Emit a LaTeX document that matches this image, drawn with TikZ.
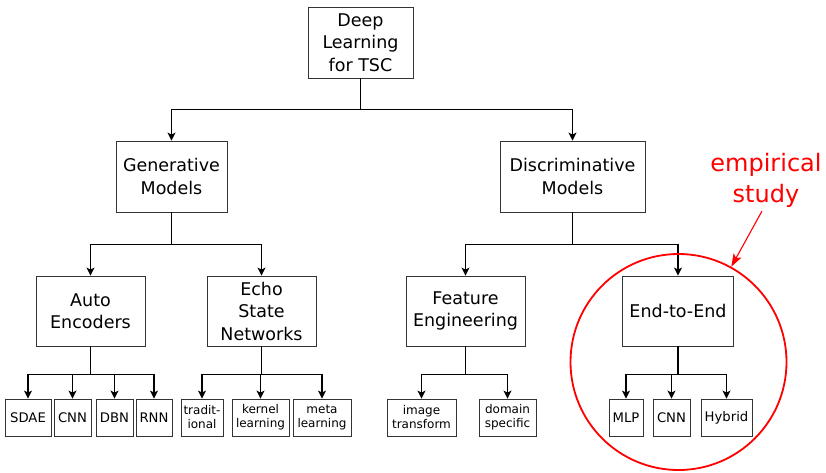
\documentclass[tikz,border=0pt]{standalone}
\usepackage{fontspec}
\setmainfont{DejaVu Sans}
\usetikzlibrary{arrows.meta}
\tikzset{
  box/.style={draw=black!80, line width=0.9pt, rectangle, inner sep=0pt, align=center},
  big/.style={box, font=\fontsize{17.5}{22.5}\selectfont},
  leaf/.style={box, font=\fontsize{13.2}{15}\selectfont},
  leaftwo/.style={box, font=\fontsize{12}{14}\selectfont},
  ln/.style={draw=black, line width=1.1pt},
  arr/.style={ln, -{Stealth[length=8pt,width=8pt,inset=2pt]}},
}
\begin{document}
\begin{tikzpicture}[x=1pt,y=-1pt]
\useasboundingbox (0,0) rectangle (826,472);
% level 0
\node[big, minimum width=105pt, minimum height=71pt] (top) at (360.5,42.5) {Deep\\Learning\\for TSC};
% level 1
\node[big, minimum width=111pt, minimum height=71pt] (gen) at (171.5,176.5) {Generative\\Models};
\node[big, minimum width=145pt, minimum height=71pt] (disc) at (572.5,176.5) {Discriminative\\Models};
% level 2
\node[big, minimum width=109pt, minimum height=70pt] (ae) at (90.5,311) {Auto\\Encoders};
\node[big, minimum width=109pt, minimum height=70pt] (esn) at (261.5,311) {Echo\\State\\Networks};
\node[big, minimum width=119pt, minimum height=70pt] (fe) at (465.5,311) {Feature\\Engineering};
\node[big, minimum width=111pt, minimum height=70pt] (e2e) at (678,311) {End-to-End};
% level 3
\node[leaf, minimum width=46pt, minimum height=37pt] (sdae) at (28,417.5) {SDAE};
\node[leaf, minimum width=37pt, minimum height=37pt] (cnna) at (72.5,417.5) {CNN};
\node[leaf, minimum width=37pt, minimum height=37pt] (dbn) at (114.5,417.5) {DBN};
\node[leaf, minimum width=36pt, minimum height=37pt] (rnn) at (154,417.5) {RNN};
\node[leaftwo, minimum width=42pt, minimum height=37pt] (trad) at (202,417.5) {tradit-\\ional};
\node[leaftwo, minimum width=57pt, minimum height=37pt] (kern) at (260.5,417.5) {kernel\\learning};
\node[leaftwo, minimum width=58pt, minimum height=37pt] (meta) at (322,417.5) {meta\\learning};
\node[leaftwo, minimum width=69pt, minimum height=37pt] (img) at (421.5,417.5) {image\\transform};
\node[leaftwo, minimum width=57pt, minimum height=37pt] (dom) at (507.5,417.5) {domain\\specific};
\node[leaf, minimum width=34pt, minimum height=37pt] (mlp) at (626,417.5) {MLP};
\node[leaf, minimum width=37pt, minimum height=37pt] (cnnb) at (671.5,417.5) {CNN};
\node[leaf, minimum width=51pt, minimum height=37pt] (hyb) at (726.5,417.5) {Hybrid};
% connectors
\draw[ln] (top.south) -- ++(0,31) coordinate (b0);
\foreach \c in {gen,disc} \draw[arr] (b0) -| (\c.north);
\draw[ln] (gen.south) -- ++(0,32) coordinate (b1);
\foreach \c in {ae,esn} \draw[arr] (b1) -| (\c.north);
\draw[ln] (disc.south) -- ++(0,32) coordinate (b2);
\foreach \c in {fe,e2e} \draw[arr] (b2) -| (\c.north);
\draw[ln] (ae.south) -- ++(0,28) coordinate (b3);
\foreach \c in {sdae,cnna,dbn,rnn} \draw[arr] (b3) -| (\c.north);
\draw[ln] (esn.south) -- ++(0,28) coordinate (b4);
\foreach \c in {trad,kern,meta} \draw[arr] (b4) -| (\c.north);
\draw[ln] (fe.south) -- ++(0,28) coordinate (b5);
\foreach \c in {img,dom} \draw[arr] (b5) -| (\c.north);
\draw[ln] (e2e.south) -- ++(0,28) coordinate (b6);
\foreach \c in {mlp,cnnb,hyb} \draw[arr] (b6) -| (\c.north);
% empirical study
\node[circle, draw=red, line width=1.8pt, minimum size=216pt, inner sep=0pt] (circ) at (678.5,362) {};
\node[text=red, align=center, font=\fontsize{24}{31}\selectfont] (emp) at (766,180) {empirical\\study};
\coordinate (es) at (762,211);
\draw[red, line width=1.1pt, -{Stealth[length=13pt,width=9pt,inset=3pt]}] (es) -- (circ.61);
\end{tikzpicture}
\end{document}
